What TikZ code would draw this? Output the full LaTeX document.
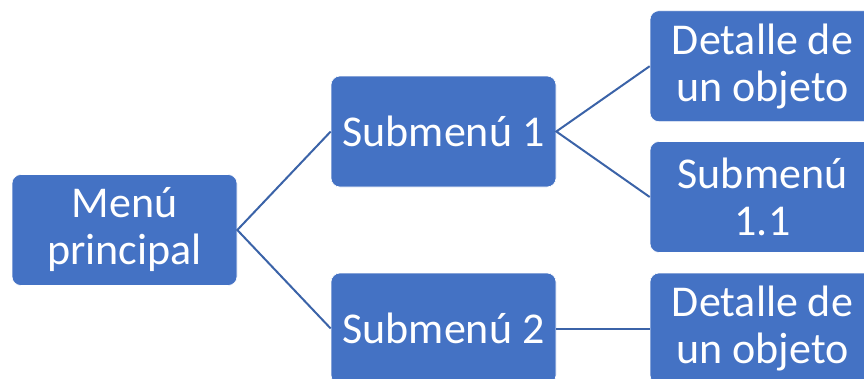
\documentclass[tikz,border=0pt]{standalone}
\usepackage{fontspec}
\setmainfont{Carlito}
\usepackage{xcolor}
\usepackage{tikz}
\usetikzlibrary{positioning,calc}
\definecolor{smartblue}{HTML}{4472C4}
\definecolor{linkblue}{HTML}{3B63A8}
\tikzset{
  menubox/.style={
    rectangle, rounded corners=9pt, fill=#1, draw=white, line width=0.6pt,
    minimum width=225pt, minimum height=111pt,
    text=white, align=center, inner sep=2pt,
    font=\fontsize{44}{47}\selectfont
  },
  menubox/.default=smartblue,
  treelink/.style={
    line width=2pt, color=#1
  },
  treelink/.default=linkblue,
}

\begin{document}
\begin{tikzpicture}[x=1pt,y=-1pt]
  \useasboundingbox (0,0) rectangle (864,378);
  \clip (0,0) rectangle (864,378);
  % level 0
  \node[menubox] (root) at (124.5,230) {Menú\\principal};
  % level 1
  \node[menubox] (sub1) at (443.5,131.5) {Submenú 1};
  \node[menubox] (sub2) at (443.5,328.5) {Submenú 2};
  % level 2
  \node[menubox] (det1) at (762.5,66.2) {Detalle de\\un objeto};
  \node[menubox] (sub11) at (762.5,197) {Submenú\\1.1};
  \node[menubox] (det2) at (762.5,328.5) {Detalle de\\un objeto};
  % links
  \draw[treelink] (sub1.west) -- (root.east) -- (sub2.west);
  \draw[treelink] (det1.west) -- (sub1.east) -- (sub11.west);
  \draw[treelink] (sub2.east) -- (det2.west);
\end{tikzpicture}
\end{document}
